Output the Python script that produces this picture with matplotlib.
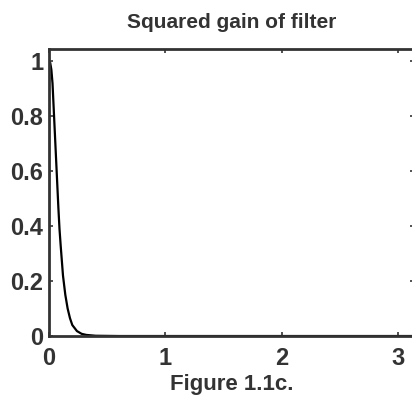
import numpy as np
import matplotlib.pyplot as plt

# squared gain
freq = [0.0, 0.01, 0.02, 0.03, 0.04, 0.05, 0.06, 0.07, 0.08, 0.09, 0.10,
        0.12, 0.14, 0.16, 0.18, 0.20, 0.24, 0.28, 0.32, 0.40, 0.6, 1.0, 2.0, 3.1416]
gain2 = [1.0, 0.995, 0.97, 0.92, 0.83, 0.74, 0.65, 0.56, 0.47, 0.39, 0.33,
         0.22, 0.15, 0.10, 0.065, 0.04, 0.018, 0.008, 0.004, 0.001, 0.0, 0.0, 0.0, 0.0]
xticks = [0, 1, 2, 3]
yticks = [0, 0.2, 0.4, 0.6, 0.8, 1]
yticklabels = ['0', '0.2', '0.4', '0.6', '0.8', '1']

plt.rcParams['font.family'] = ['Liberation Sans', 'DejaVu Sans']
plt.rcParams['font.weight'] = 'bold'

fig = plt.figure(figsize=(4.12, 4.07), dpi=100)
ax = fig.add_axes([0.119, 0.1744, 0.887, 0.7052])
ax.plot(freq, gain2, color='black', lw=1.6)
ax.set_xlim(0, np.pi)
ax.set_ylim(0, 1.045)
ax.set_xticks(xticks)
ax.set_yticks(yticks)
ax.set_yticklabels(yticklabels)
ax.tick_params(direction='in', length=3, width=1.2, top=True, right=True,
               labelsize=17, colors='#333333')
ax.tick_params(axis='x', pad=8)
ax.tick_params(axis='y', pad=4)
for s in ax.spines.values():
    s.set_linewidth(2)
    s.set_color('#333333')
ax.set_title('Squared gain of filter', fontsize=15, fontweight='bold',
             color='#333333', pad=15)
ax.set_xlabel('Figure 1.1c.', fontsize=16, fontweight='bold',
              color='#333333', labelpad=3)

fig.savefig('out.png', dpi=100)
